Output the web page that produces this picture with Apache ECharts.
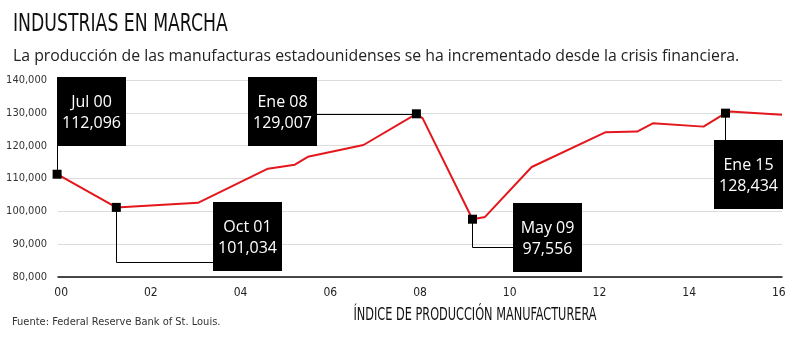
<!DOCTYPE html>
<html><head><meta charset="utf-8">
<script src="https://cdn.jsdelivr.net/npm/echarts@6/dist/echarts.min.js"></script>
<style>html,body{margin:0;padding:0;background:#fff}#c{width:800px;height:343px}</style>
</head><body><div id="c"></div>
<script>
const NARROW = '"Liberation Sans Narrow","DejaVu Sans Condensed","Arial Narrow",sans-serif';
const OPEN = '"Open Sans","Noto Sans",sans-serif';

const titleText = 'INDUSTRIAS EN MARCHA';
const subtitleText = 'La producción de las manufacturas estadounidenses se ha incrementado desde la crisis financiera.';
const sourceText = 'Fuente: Federal Reserve Bank of St. Louis.';
const axisTitle = 'ÍNDICE DE PRODUCCIÓN MANUFACTURERA';

// x in years since 2000, y = index value
const xYears = [-0.29, -0.09, 1.23, 3.05, 4.61, 5.21, 5.50, 6.74, 7.92, 8.06, 9.17, 9.45, 10.49, 12.14, 12.84, 13.19, 14.32, 14.81, 14.91, 16.07];
const values = [111400, 111300, 101200, 102600, 113000, 114200, 116600, 120200, 129700, 128300, 97600, 98300, 113500, 124100, 124300, 126800, 125800, 129900, 130400, 129400];

const xTickValues = [0, 2, 4, 6, 8, 10, 12, 14, 16];

// annotations
const annoIdx = [1, 2, 8, 10, 17];
const annoDates = ['Jul 00', 'Oct 01', 'Ene 08', 'May 09', 'Ene 15'];
const annoValues = ['112,096', '101,034', '129,007', '97,556', '128,434'];

const chart = echarts.init(document.getElementById('c'), null, {renderer: 'canvas'});

const option = {
  animation: false,
  backgroundColor: '#fff',
  grid: {left: 58, right: 18, top: 80, bottom: 66},
  xAxis: {
    type: 'value', min: -0.07, max: 16.07,
    axisLine: {show: true, lineStyle: {color: '#111', width: 1.5}},
    axisTick: {show: false},
    splitLine: {show: false},
    axisLabel: {
      customValues: xTickValues,
      margin: 10,
      color: '#222', fontFamily: NARROW, fontSize: 12,
      formatter: v => String(Math.round(v)).padStart(2, '0')
    }
  },
  yAxis: {
    type: 'value', min: 80000, max: 140000, interval: 10000,
    axisLine: {show: false}, axisTick: {show: false},
    splitLine: {lineStyle: {color: '#dcdcdc', width: 1}},
    axisLabel: {
      margin: 11, color: '#333', fontFamily: NARROW, fontSize: 11,
      formatter: v => v.toLocaleString('en-US')
    }
  },
  series: [
    {
      type: 'line', clip: false, showSymbol: false, z: 3,
      lineStyle: {color: '#e3171c', width: 2},
      data: xYears.map((x, i) => [x, values[i]])
    },
    {
      type: 'scatter', clip: false, z: 6, symbol: 'rect', symbolSize: 9,
      itemStyle: {color: '#000', opacity: 1},
      data: annoIdx.map(i => [xYears[i], values[i]])
    }
  ]
};
chart.setOption(option);

// annotation layout (offsets of box relative to marker, and connector style)
const layouts = [
  {dx: 0, dy: -97, conn: 'up'},
  {dx: 97, dy: -5, conn: 'elbow', drop: 55},
  {dx: -168, dy: -37, conn: 'left'},
  {dx: 41, dy: -16, conn: 'elbow', drop: 28},
  {dx: -11, dy: 27, conn: 'down'}
];
const BW = 69, BH = 69;
const g = [];
annoIdx.forEach((idx, k) => {
  const p = chart.convertToPixel({gridIndex: 0}, [xYears[idx], values[idx]]);
  const mx = Math.round(p[0]) + 0.5, my = Math.round(p[1]) + 0.5;
  const L = layouts[k];
  const bx = Math.round(p[0] + L.dx), by = Math.round(p[1] + L.dy);
  let pts;
  if (L.conn === 'up') pts = [[mx, by + BH], [mx, my]];
  else if (L.conn === 'down') pts = [[mx, my], [mx, by]];
  else if (L.conn === 'left') pts = [[bx + BW, my], [mx, my]];
  else pts = [[mx, my], [mx, my + L.drop], [bx, my + L.drop]];
  g.push({type: 'polyline', z: 4, shape: {points: pts}, style: {stroke: '#000', lineWidth: 1, fill: null}});
  g.push({type: 'rect', z: 5, shape: {x: bx, y: by, width: BW, height: BH}, style: {fill: '#000'}});
  g.push({type: 'text', z: 7, x: bx + BW / 2, y: by + 25, style: {text: annoDates[k], fill: '#fff', font: '16px ' + OPEN, textAlign: 'center', textVerticalAlign: 'middle'}});
  g.push({type: 'text', z: 7, x: bx + BW / 2, y: by + 46, style: {text: annoValues[k], fill: '#fff', font: '16px ' + OPEN, textAlign: 'center', textVerticalAlign: 'middle'}});
});
g.push({type: 'text', x: 13, y: 25, scaleX: 0.8, style: {text: titleText, fill: '#111', font: '24px ' + NARROW, textVerticalAlign: 'middle'}});
g.push({type: 'text', x: 13, y: 56, style: {text: subtitleText, fill: '#222', font: '15.8px ' + OPEN, textVerticalAlign: 'middle'}});
g.push({type: 'text', x: 12, y: 322, style: {text: sourceText, fill: '#333', font: '11px ' + NARROW, textVerticalAlign: 'middle'}});
g.push({type: 'text', x: 475, y: 316, scaleX: 0.74, style: {text: axisTitle, fill: '#111', font: '17px ' + NARROW, textAlign: 'center', textVerticalAlign: 'middle'}});
chart.setOption({graphic: g});
</script>
</body></html>
